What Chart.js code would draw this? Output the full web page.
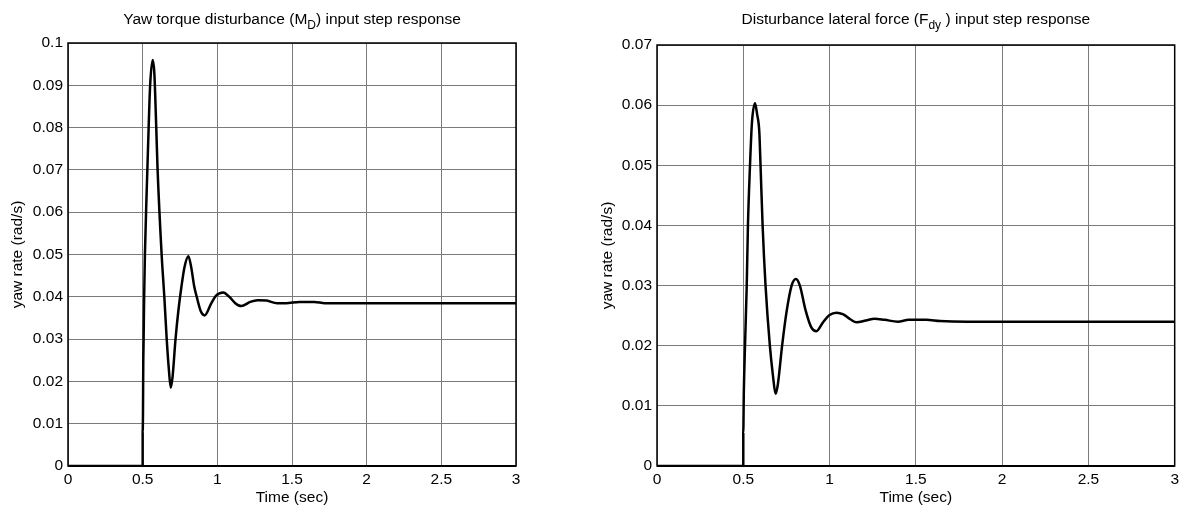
<!DOCTYPE html>
<html>
<head>
<meta charset="utf-8">
<script src="https://cdn.jsdelivr.net/npm/chart.js@4.4.1/dist/chart.umd.min.js"></script>
<style>
    body { margin: 0; background: #fff; }
    #wrap { position: relative; width: 1183px; height: 508px; }
    canvas { position: absolute; top: 0; }
</style>
</head>
<body>
<div id="wrap">
    <canvas id="yawChart" width="591" height="508" style="left:0"></canvas>
    <canvas id="latChart" width="592" height="508" style="left:591px"></canvas>
</div>
<script>
// Yaw torque disturbance step response
const timeYaw = [0, 0.5, 0.5, 0.502, 0.504, 0.506, 0.51, 0.515, 0.527, 0.54, 0.55, 0.567, 0.578, 0.591, 0.60,
    0.627, 0.645, 0.661, 0.675, 0.688, 0.70, 0.72, 0.74, 0.76, 0.78, 0.806, 0.825, 0.845, 0.862, 0.89,
    0.915, 0.96, 0.99, 1.04, 1.08, 1.12, 1.16, 1.22, 1.27, 1.33, 1.40, 1.46, 1.55, 1.65, 1.72, 2.0, 3.0];
const rateYaw = [0, 0, 0.008, 0.012, 0.024, 0.029, 0.040, 0.050, 0.065, 0.080, 0.090, 0.096, 0.093, 0.080, 0.070,
    0.050, 0.040, 0.030, 0.023, 0.0185, 0.021, 0.030, 0.037, 0.0425, 0.047, 0.0496, 0.047, 0.0425, 0.040, 0.0365,
    0.0356, 0.0385, 0.0402, 0.041, 0.040, 0.0385, 0.0378, 0.0388, 0.0392, 0.0391, 0.0385, 0.0385, 0.0388, 0.0388, 0.0385, 0.0385, 0.0385];

// Disturbance lateral force step response
const timeLat = [0, 0.5, 0.5, 0.503, 0.51, 0.52, 0.527, 0.539, 0.55, 0.568, 0.58, 0.593, 0.60, 0.612, 0.629,
    0.654, 0.672, 0.687, 0.70, 0.725, 0.75, 0.78, 0.805, 0.828, 0.86, 0.895, 0.924, 0.96, 1.0, 1.04, 1.08,
    1.12, 1.156, 1.21, 1.261, 1.32, 1.396, 1.46, 1.56, 1.64, 1.8, 3.0];
const rateLat = [0, 0, 0.0055, 0.012, 0.020, 0.030, 0.040, 0.050, 0.057, 0.0603, 0.0585, 0.0555, 0.050, 0.040, 0.030,
    0.020, 0.015, 0.012, 0.0135, 0.020, 0.0255, 0.030, 0.0311, 0.030, 0.026, 0.023, 0.0224, 0.0238, 0.0251, 0.0255, 0.0252,
    0.0244, 0.0239, 0.0242, 0.0245, 0.0243, 0.0240, 0.0243, 0.0243, 0.0241, 0.0240, 0.0240];

const xTickLabels = ['0', '0.5', '1', '1.5', '2', '2.5', '3'];
const yTickLabelsYaw = ['0', '0.01', '0.02', '0.03', '0.04', '0.05', '0.06', '0.07', '0.08', '0.09', '0.1'];
const yTickLabelsLat = ['0', '0.01', '0.02', '0.03', '0.04', '0.05', '0.06', '0.07'];

const FONT = 'Arial, "Liberation Sans", Helvetica, sans-serif';

// draws the box, the titles (with subscript) and axis labels
const matlabLook = {
    id: 'matlabLook',
    afterDraw(chart) {
        const o = chart.options.plugins.matlabLook;
        const ctx = chart.ctx;
        const a = chart.chartArea;
        ctx.save();
        ctx.strokeStyle = '#000';
        ctx.lineWidth = 1.5;
        ctx.strokeRect(a.left, a.top, a.right - a.left, a.bottom - a.top);
        ctx.lineWidth = 2;
        ctx.beginPath();
        ctx.moveTo(a.left, a.bottom);
        ctx.lineTo(a.right, a.bottom);
        ctx.stroke();

        ctx.fillStyle = '#000';
        ctx.textBaseline = 'alphabetic';
        // title with subscript
        const big = '15.5px ' + FONT, small = '12px ' + FONT;
        ctx.font = big;
        const w1 = ctx.measureText(o.pre).width;
        const w3 = ctx.measureText(o.post).width;
        ctx.font = small;
        const w2 = ctx.measureText(o.sub).width;
        let x = (a.left + a.right) / 2 - (w1 + w2 + w3) / 2;
        ctx.textAlign = 'left';
        ctx.font = big;
        ctx.fillText(o.pre, x, 24);
        ctx.font = small;
        ctx.fillText(o.sub, x + w1, 29);
        ctx.font = big;
        ctx.fillText(o.post, x + w1 + w2, 24);

        // x label
        ctx.textAlign = 'center';
        ctx.textBaseline = 'middle';
        ctx.fillText('Time (sec)', (a.left + a.right) / 2, 498);
        // y label
        ctx.translate(o.yLabelX, (a.top + a.bottom) / 2);
        ctx.rotate(-Math.PI / 2);
        ctx.fillText('yaw rate (rad/s)', 0, 0);
        ctx.restore();
    }
};

function makeChart(id, times, rates, yMax, yLabels, opts) {
    const points = times.map((t, i) => ({ x: t, y: rates[i] }));
    return new Chart(document.getElementById(id), {
        type: 'line',
        data: {
            datasets: [{
                data: points,
                borderColor: '#000',
                borderWidth: 2.5,
                pointRadius: 0,
                cubicInterpolationMode: 'monotone',
                fill: false
            }]
        },
        options: {
            responsive: false,
            animation: false,
            layout: { padding: { top: opts.top, right: opts.right, left: 0, bottom: 0 } },
            plugins: {
                legend: { display: false },
                tooltip: { enabled: false },
                matlabLook: opts.look
            },
            scales: {
                x: {
                    type: 'linear',
                    min: 0,
                    max: 3,
                    afterFit: (s) => { s.height = 42; },
                    ticks: {
                        stepSize: 0.5,
                        padding: 4,
                        color: '#000',
                        font: { family: FONT, size: 15.5 },
                        maxRotation: 0,
                        callback: (v, i) => xTickLabels[i]
                    },
                    grid: { color: '#7a7a7a', lineWidth: 1, drawTicks: false },
                    border: { display: false }
                },
                y: {
                    min: 0,
                    max: yMax,
                    afterFit: (s) => { s.width = opts.yWidth; },
                    ticks: {
                        stepSize: 0.01,
                        padding: 5,
                        color: '#000',
                        font: { family: FONT, size: 15.5 },
                        callback: (v, i) => yLabels[i]
                    },
                    grid: { color: '#7a7a7a', lineWidth: 1, drawTicks: false },
                    border: { display: false }
                }
            }
        },
        plugins: [matlabLook]
    });
}

makeChart('yawChart', timeYaw, rateYaw, 0.1, yTickLabelsYaw, {
    top: 43, right: 75, yWidth: 68,
    look: { pre: 'Yaw torque disturbance (M', sub: 'D', post: ') input step response', yLabelX: 18 }
});

makeChart('latChart', timeLat, rateLat, 0.07, yTickLabelsLat, {
    top: 45, right: 8, yWidth: 66,
    look: { pre: 'Disturbance lateral force (F', sub: 'dy', post: ' ) input step response', yLabelX: 17 }
});
</script>
</body>
</html>
